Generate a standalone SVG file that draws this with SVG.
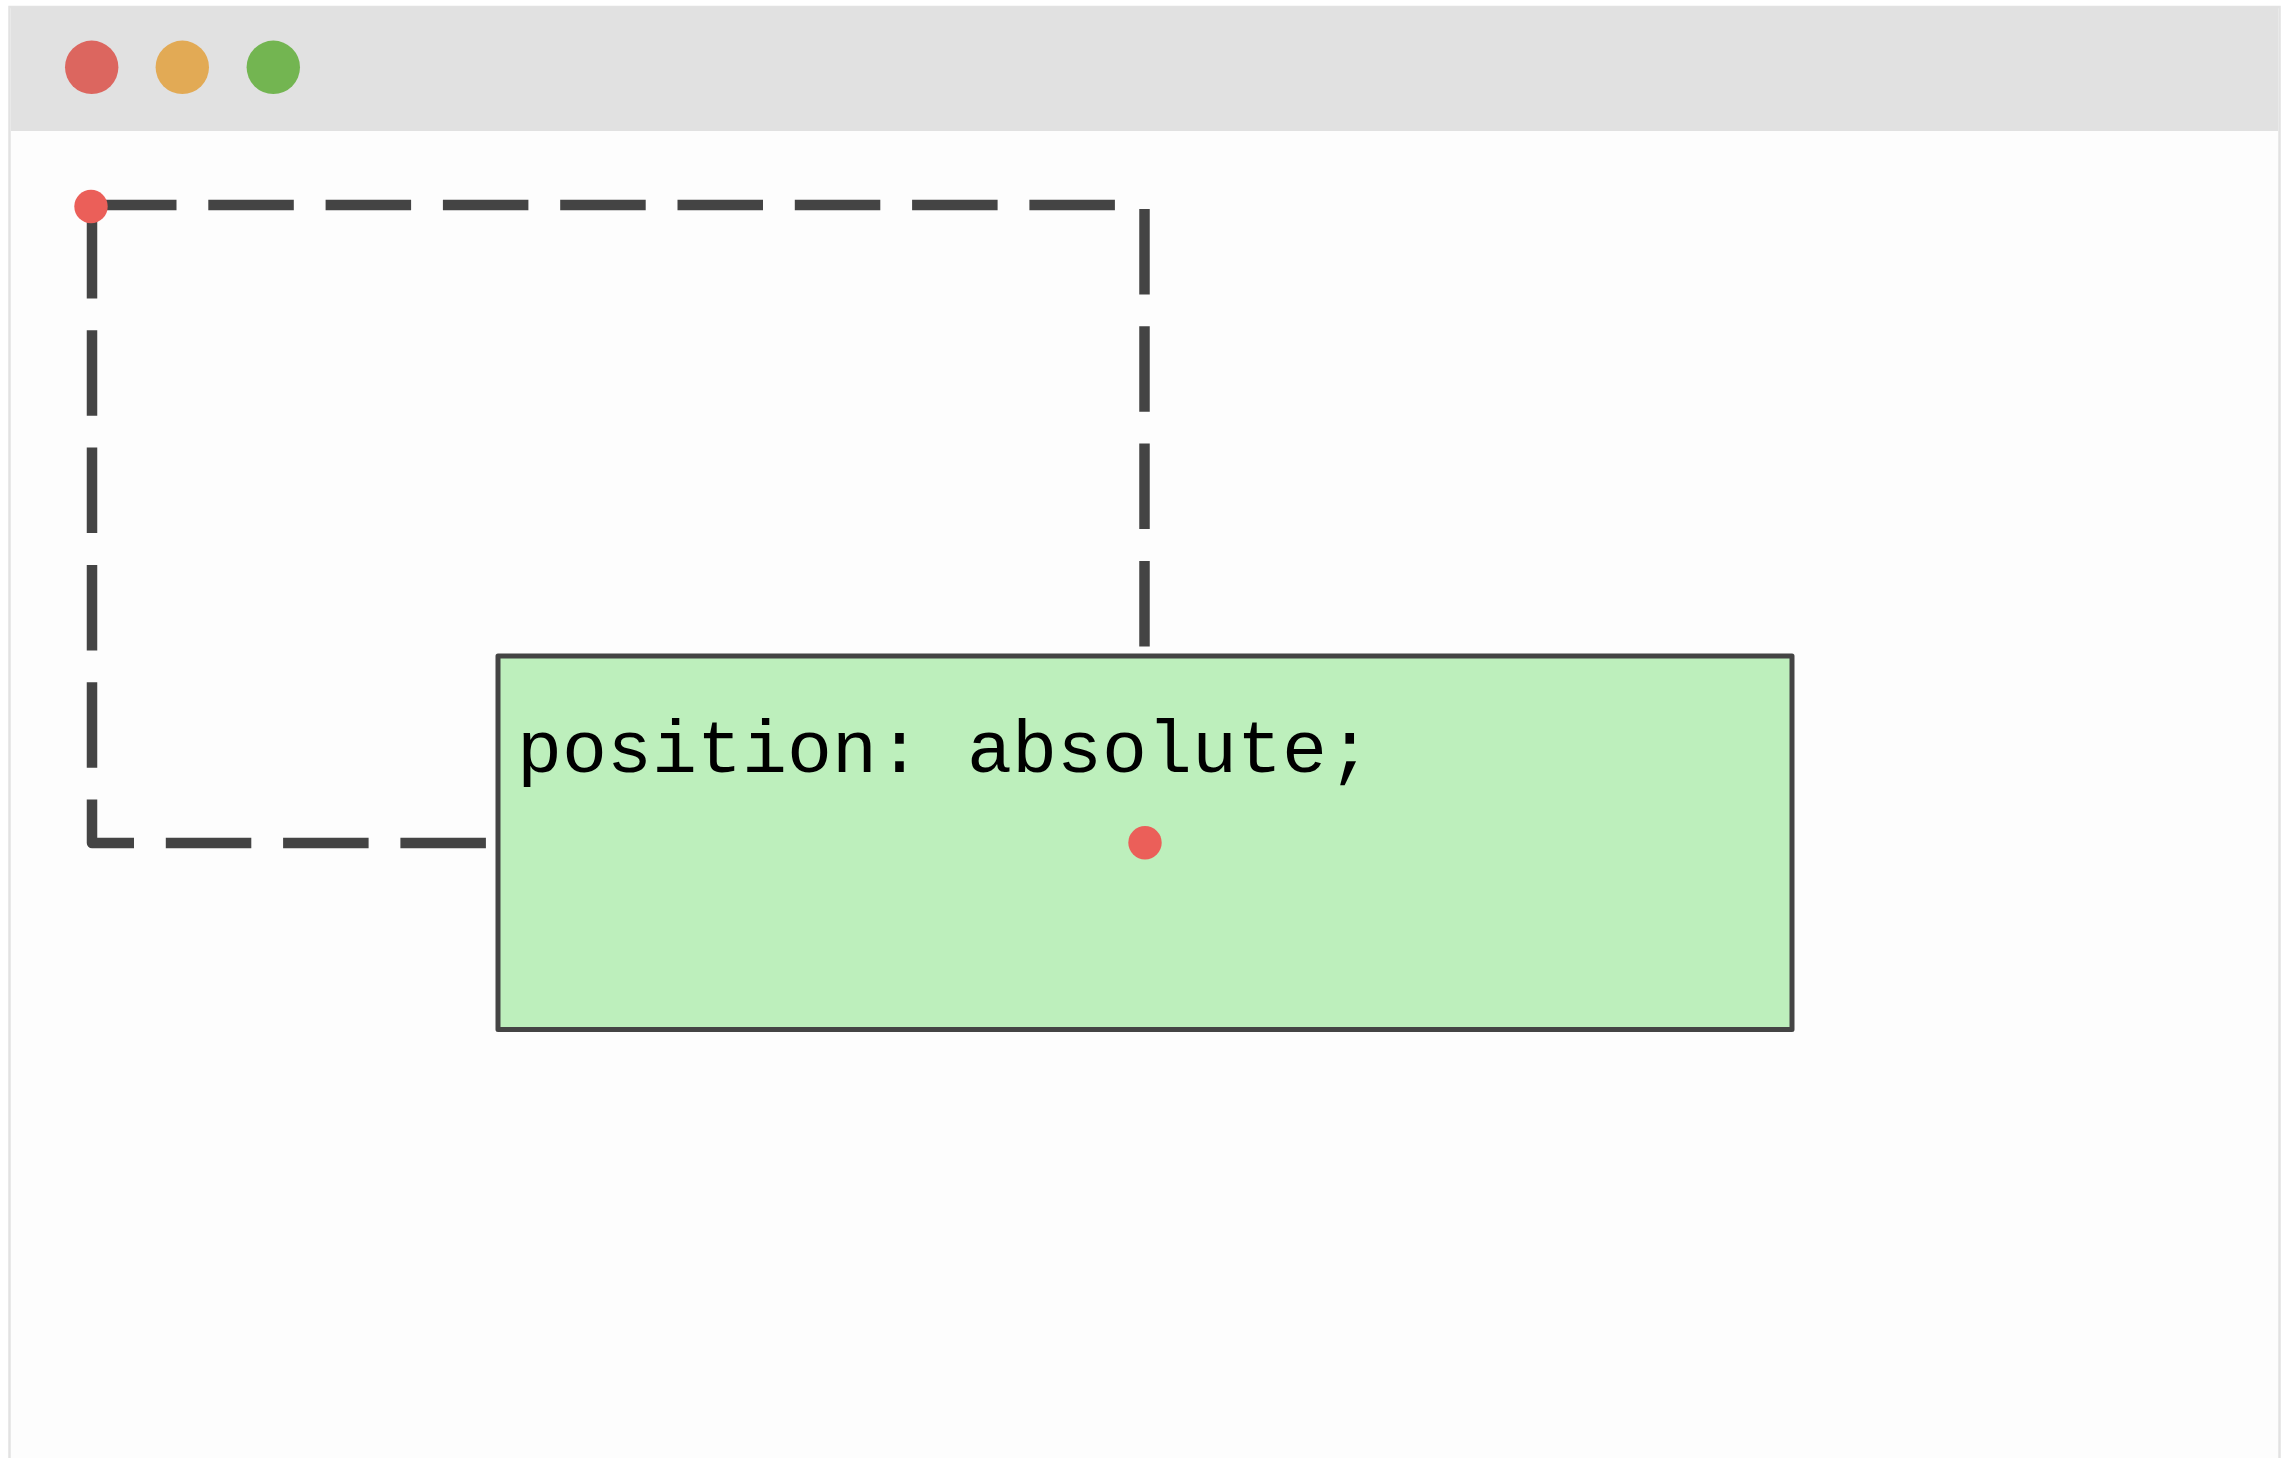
<svg xmlns="http://www.w3.org/2000/svg" width="2282" height="1458" viewBox="0 0 2282 1458">
  <style>
    .dash { fill: none; stroke: #444444; stroke-width: 10.5; stroke-dasharray: 85.5 31.8; stroke-linecap: butt; stroke-linejoin: round; }
    .dot { fill: #eb5f59; }
    .label { font-family: "Liberation Mono", "Courier New", monospace; font-size: 75px; fill: #000000; }
  </style>
  <rect x="0" y="0" width="2282" height="1458" fill="#ffffff"/>
  <g id="window">
    <rect x="9.5" y="7" width="2270" height="1460" fill="#fdfdfd" stroke="#e2e2e2" stroke-width="2.5"/>
    <rect x="11" y="7" width="2267" height="124" fill="#e1e1e1"/>
    <circle cx="91.7" cy="67.3" r="26.7" fill="#dc665f"/>
    <circle cx="182.3" cy="67.3" r="26.7" fill="#e2aa55"/>
    <circle cx="273.3" cy="67.3" r="26.7" fill="#73b551"/>
  </g>
  <g id="connectors">
    <path class="dash" d="M91 205 L1130 205"/>
    <path class="dash" d="M1144.5 209 L1144.5 652"/>
    <path class="dash" d="M92 213 L92 843 L500 843"/>
  </g>
  <g id="static-origin">
    <circle class="dot" cx="91" cy="206.5" r="16.7"/>
  </g>
  <g id="absolute-box">
    <rect x="498" y="656" width="1294" height="373.5" fill="#bdefbc" stroke="#444444" stroke-width="5" stroke-linejoin="round"/>
    <text class="label" x="517" y="772">position: absolute;</text>
    <circle class="dot" cx="1145" cy="842.7" r="16.7"/>
  </g>
</svg>
